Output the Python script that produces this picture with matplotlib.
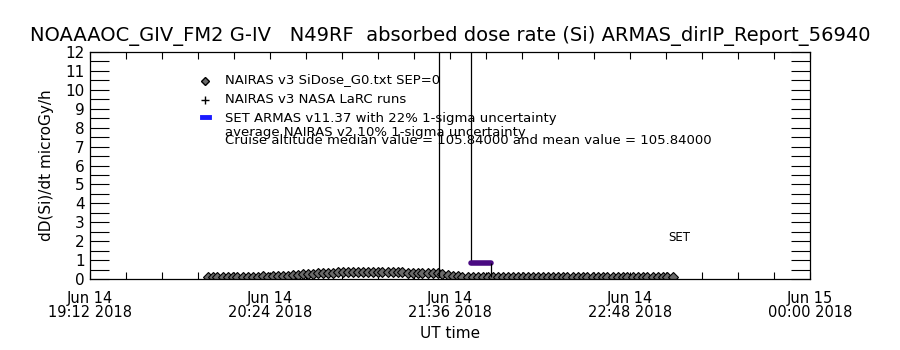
import matplotlib
matplotlib.use("Agg")
import matplotlib.pyplot as plt
import matplotlib.transforms as mtransforms
from matplotlib.ticker import MultipleLocator
import pandas as pd

plt.rcParams['font.family'] = ['DejaVu Sans']

# ---------------- data ----------------
title = "NOAAAOC_GIV_FM2 G-IV   N49RF  absorbed dose rate (Si) ARMAS_dirIP_Report_56940"
x_start = "2018-06-14 19:12"
x_end = "2018-06-15 00:00"
xtick_times = ["2018-06-14 19:12", "2018-06-14 20:24", "2018-06-14 21:36",
               "2018-06-14 22:48", "2018-06-15 00:00"]
xtick_labels = ["Jun 14\n19:12 2018", "Jun 14\n20:24 2018", "Jun 14\n21:36 2018",
                "Jun 14\n22:48 2018", "Jun 15\n00:00 2018"]

# NAIRAS v3 SiDose series (2-minute cadence starting 19:59)
nairas_start = "2018-06-14 19:59"
nairas_vals = [0.10, 0.11, 0.11, 0.12, 0.12, 0.12, 0.13, 0.12, 0.13, 0.13, 0.13, 0.14, 0.13, 0.14, 0.14, 0.15,
               0.17, 0.19, 0.21, 0.24, 0.27, 0.29, 0.31,
               0.32, 0.33, 0.34, 0.35, 0.36, 0.36, 0.37, 0.37, 0.38, 0.37, 0.37, 0.36, 0.36, 0.36, 0.35, 0.35,
               0.35, 0.34, 0.34, 0.34, 0.33, 0.33, 0.32,
               0.30, 0.27, 0.22, 0.18, 0.15,
               0.13, 0.12, 0.12, 0.12, 0.13, 0.12, 0.12, 0.12, 0.11, 0.12, 0.12, 0.11, 0.12, 0.11, 0.11, 0.12,
               0.11, 0.11, 0.11, 0.12, 0.11, 0.11, 0.10, 0.11, 0.11, 0.11, 0.10, 0.11, 0.10, 0.10, 0.11, 0.10,
               0.10, 0.10, 0.11, 0.10, 0.10, 0.10, 0.09, 0.10, 0.10, 0.09, 0.09]

# ARMAS vertical spikes (off scale)
spike_times = ["2018-06-14 21:31:36", "2018-06-14 21:44:24"]
spike_low = [0.10, 0.84]
spike_high = [60.0, 60.0]

# SET ARMAS segment
set_times = ["2018-06-14 21:44:24", "2018-06-14 21:52:24"]
set_vals = [0.84, 0.84]
drop_time = "2018-06-14 21:52:24"
drop_low = 0.10
drop_high = 0.84

legend_lines = ["NAIRAS v3 SiDose_G0.txt SEP=0",
                "NAIRAS v3 NASA LaRC runs",
                "SET ARMAS v11.37 with 22% 1-sigma uncertainty",
                "average NAIRAS v2 10% 1-sigma uncertainty",
                "Cruise altitude median value = 105.84000 and mean value = 105.84000"]

# ---------------- plot ----------------
fig = plt.figure(figsize=(9, 3.5), dpi=100)
ax = fig.add_axes([0.1, 1 - 279 / 350, 0.8, 227 / 350])

n_times = pd.date_range(nairas_start, periods=len(nairas_vals), freq="2min")
ax.plot(n_times, nairas_vals, linestyle="none", marker="D", markersize=4.6,
        markerfacecolor="#6a6a6a", markeredgecolor="black", markeredgewidth=0.8)

ax.vlines(pd.to_datetime(spike_times), spike_low, spike_high, color="black", lw=0.9)
ax.plot(pd.to_datetime(set_times), set_vals, color="#4a0a82", lw=4.0, solid_capstyle="round")
ax.vlines(pd.to_datetime([drop_time]), [drop_low], [drop_high], color="black", lw=0.9)

ax.text(pd.Timestamp("2018-06-14 23:03:12"), 2.2, "SET", fontsize=8.5, ha="left", va="center")

ax.set_xlim(pd.Timestamp(x_start), pd.Timestamp(x_end))
ax.set_ylim(0, 12)
ax.set_xticks(pd.to_datetime(xtick_times))
ax.set_xticklabels(xtick_labels, fontsize=10.5, linespacing=0.85)
minor_x = pd.date_range(x_start, x_end, freq="864s")
ax.set_xticks(minor_x, minor=True)
ax.yaxis.set_major_locator(MultipleLocator(1))
ax.yaxis.set_minor_locator(MultipleLocator(0.5))
ax.tick_params(axis="y", which="both", direction="in", length=14, width=0.8,
               left=True, right=True, labelsize=11, pad=4)
ax.tick_params(axis="x", which="both", direction="in", length=5, width=0.8,
               bottom=True, top=True, pad=9)
for s in ax.spines.values():
    s.set_linewidth(0.9)

# nudge the top y label down a little, as in the reference
fig.canvas.draw()
ylabels = ax.get_yticklabels()
if ylabels:
    top_lab = ylabels[-1]
    top_lab.set_transform(top_lab.get_transform() +
                          mtransforms.ScaledTranslation(0, -4 / 100, fig.dpi_scale_trans))

ax.set_ylabel("dD(Si)/dt microGy/h", fontsize=11, labelpad=8)
fig.text(0.5, 1 - 333 / 350, "UT time", fontsize=11, ha="center", va="center")
fig.text(0.5, 1 - 36 / 350, title, fontsize=14, ha="center", va="center")

# legend-like annotations
leg_y = [80, 99, 118, 132, 140]
for txt, yy in zip(legend_lines, leg_y):
    fig.text(225 / 900, 1 - yy / 350, txt, fontsize=9.5, ha="left", va="center")
fig.lines.append(plt.Line2D([205 / 900], [1 - 81 / 350], transform=fig.transFigure,
                            marker="D", markersize=4, markerfacecolor="#6a6a6a",
                            markeredgecolor="black", linestyle="none"))
fig.lines.append(plt.Line2D([205 / 900], [1 - 100 / 350], transform=fig.transFigure,
                            marker="+", markersize=6, color="black", linestyle="none"))
fig.lines.append(plt.Line2D([202 / 900, 209 / 900], [1 - 117 / 350, 1 - 117 / 350],
                            transform=fig.transFigure, color="#1a1aff", lw=3.5))

fig.savefig("out.png", dpi=100)
